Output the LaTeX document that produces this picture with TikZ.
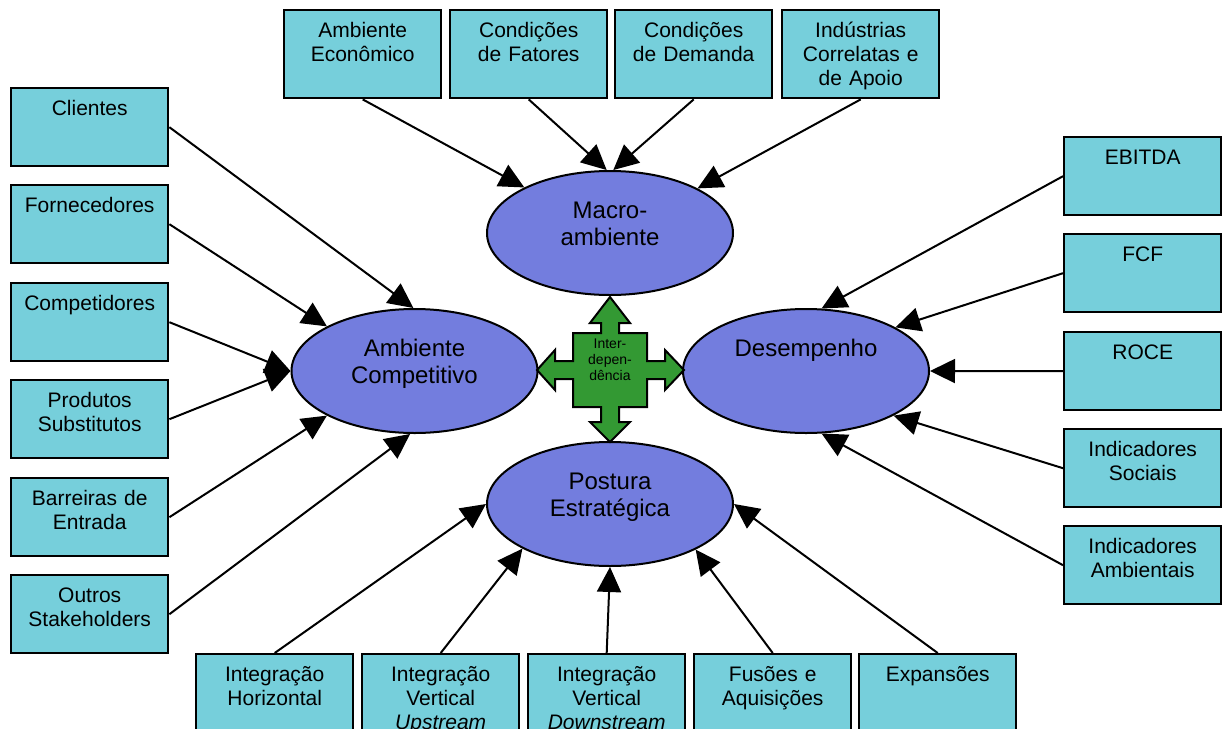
\documentclass[tikz,border=0pt]{standalone}
\usepackage{fontspec}
\setmainfont{Liberation Sans}
\usetikzlibrary{arrows.meta,shapes.geometric}
\definecolor{boxfill}{RGB}{118,207,219}
\definecolor{ellfill}{RGB}{115,125,222}
\definecolor{crossfill}{RGB}{51,153,51}

\begin{document}
\begin{tikzpicture}[x=0.5pt,y=-0.5pt,
  factor/.style={draw=black, line width=1.2pt, fill=boxfill, anchor=north west,
    inner sep=0pt, text width=78.5pt, align=center,
    font=\fontsize{10.5}{12}\selectfont, text height=13.75pt, text depth=25.25pt},
  tallfactor/.style={factor, text depth=30.25pt},
  hub/.style={ellipse, draw=black, line width=1pt, fill=ellfill, inner sep=0pt,
    minimum width=123pt, minimum height=62pt, text width=80pt, align=center,
    font=\fontsize{12}{13.5}\selectfont, text height=10pt, text depth=25pt},
  link/.style={line width=1pt, -{Triangle[length=12.5pt,width=12pt]}}
]
\useasboundingbox (0,0) rectangle (1223,729);
\clip (0,0) rectangle (1223,729);

% central hubs
\node[hub] (mac) at (610,233) {Macro-\\ambiente};
\node[hub] (ac)  at (414.5,371) {Ambiente\\Competitivo};
\node[hub] (des) at (806,371) {Desempenho};
\node[hub] (pos) at (610,504) {Postura\\Estratégica};

% four-way interdependence arrow
\draw[line width=1pt, fill=crossfill, line join=miter]
  (610,297) -- (630,323) -- (619,323) -- (619,333) -- (647,333) -- (647,361)
  -- (665,361) -- (665,350) -- (684,370) -- (665,390) -- (665,379) -- (647,379)
  -- (647,407) -- (619,407) -- (619,422) -- (630,422) -- (610,442) -- (590,422)
  -- (601,422) -- (601,407) -- (573,407) -- (573,379) -- (555,379) -- (555,390)
  -- (537,370) -- (555,350) -- (555,361) -- (573,361) -- (573,333) -- (601,333)
  -- (601,323) -- (590,323) -- cycle;
\node[font=\fontsize{7}{8}\selectfont, align=center, inner sep=0pt] (idep) at (610,360) {Inter-\\depen-\\dência};

% macro-environment factors
\node[tallfactor] (aec) at (283,9) {Ambiente\\Econômico};
\node[tallfactor] (cfa) at (449,9) {Condições\\de Fatores};
\node[tallfactor] (cde) at (614,9) {Condições\\de Demanda};
\node[tallfactor] (ind) at (781,9) {Indústrias\\Correlatas e\\de Apoio};

% competitive forces
\node[factor] (cli)  at (10,87)  {Clientes};
\node[factor] (forn) at (10,184) {Fornecedores};
\node[factor] (comp) at (10,282) {Competidores};
\node[factor] (prod) at (10,379) {Produtos\\Substitutos};
\node[factor] (barr) at (10,477) {Barreiras de\\Entrada};
\node[factor] (outr) at (10,574) {Outros\\Stakeholders};

% performance measures
\node[factor] (ebit) at (1063,136) {EBITDA};
\node[factor] (fcf)  at (1063,233) {FCF};
\node[factor] (roce) at (1063,331) {ROCE};
\node[factor] (soc)  at (1063,428) {Indicadores\\Sociais};
\node[factor] (amb)  at (1063,525) {Indicadores\\Ambientais};

% strategic moves
\node[tallfactor] (ihor)  at (195,653) {Integração\\Horizontal};
\node[tallfactor] (iup)   at (361,653) {Integração\\Vertical\\\textit{Upstream}};
\node[tallfactor] (idown) at (527,653) {Integração\\Vertical\\\textit{Downstream}};
\node[tallfactor] (fus)   at (693,653) {Fusões e\\Aquisições};
\node[tallfactor] (expa)  at (858,653) {Expansões};

% connectors
\draw[link] (aec.south) -- (mac.152.6);
\draw[link] (cfa.south) -- (mac.93);
\draw[link] (cde.south) -- (mac.87);
\draw[link] (ind.south) -- (mac.27.4);

\draw[link] (cli.east)  -- (ac.91);
\draw[link] (forn.east) -- (ac.153.7);
\draw[link] (comp.east) -- (ac.180);
\draw[link] (prod.east) -- (ac.180);
\draw[link] (barr.east) -- (ac.207.9);
\draw[link] (outr.east) -- (ac.266);

\draw[link] (ebit.west) -- (des.76.6);
\draw[link] (fcf.west)  -- (des.26.3);
\draw[link] (roce.west) -- (des.0);
\draw[link] (soc.west)  -- (des.333.2);
\draw[link] (amb.west)  -- (des.284.5);

\draw[link] (ihor.north)  -- (pos.180);
\draw[link] (iup.north)   -- (pos.207.9);
\draw[link] (idown.north) -- (pos.270);
\draw[link] (fus.north)   -- (pos.332.1);
\draw[link] (expa.north)  -- (pos.0);
\end{tikzpicture}
\end{document}
